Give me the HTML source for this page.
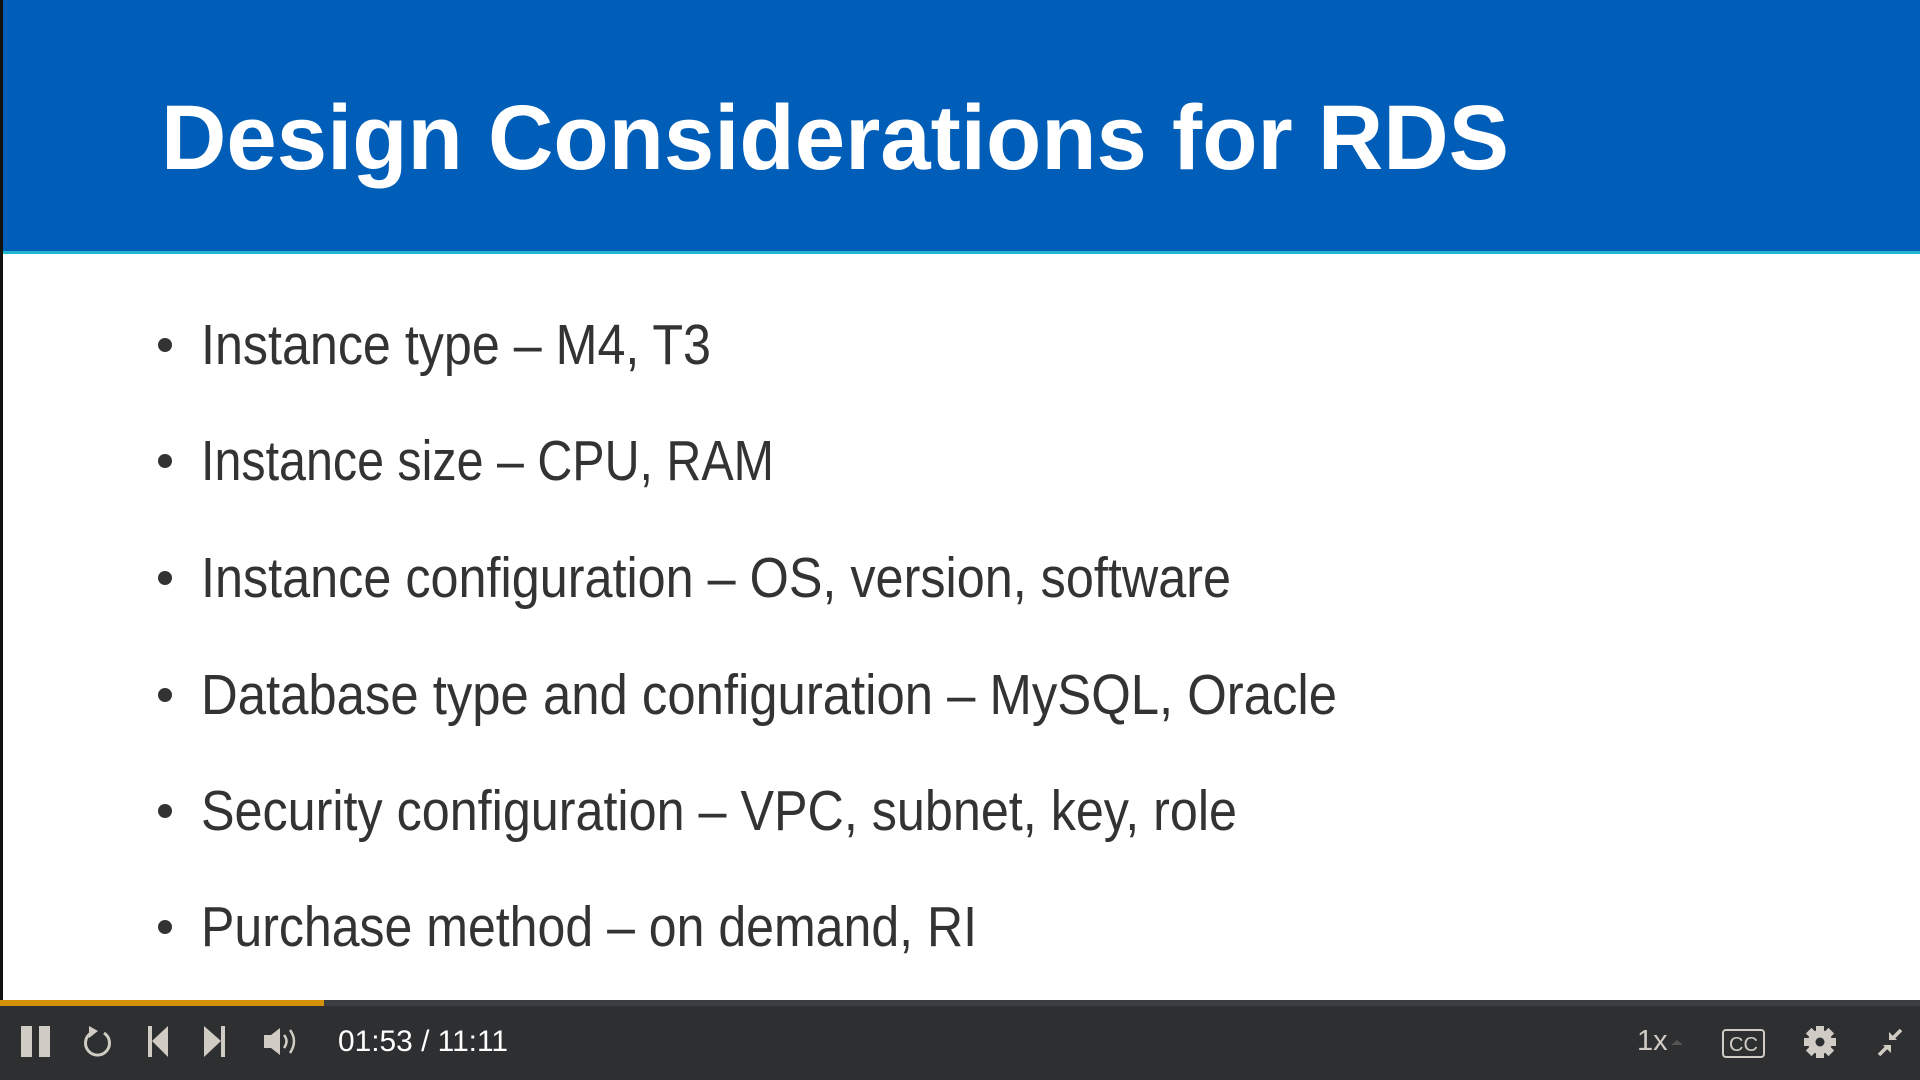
<!DOCTYPE html>
<html><head><meta charset="utf-8"><style>
html,body{margin:0;padding:0;width:1920px;height:1080px;overflow:hidden;background:#fff;}
svg{display:block}
</style></head><body>
<svg width="1920" height="1080" viewBox="0 0 1920 1080" xmlns="http://www.w3.org/2000/svg">
<rect x="0" y="0" width="1920" height="1000" fill="#fff"/>
<rect x="0" y="0" width="1920" height="252" fill="#005eb8"/>
<rect x="0" y="251" width="1920" height="3" fill="#1fb6d0"/>
<rect x="0" y="0" width="3" height="1000" fill="#111"/>
<text x="161" y="169" font-family="Liberation Sans, sans-serif" font-weight="bold" font-size="92" fill="#fff" textLength="1348" lengthAdjust="spacingAndGlyphs">Design Considerations for RDS</text>
<g font-family="Liberation Sans, sans-serif" font-size="57" fill="#333">
<circle cx="165" cy="345" r="7" fill="#333"/>
<text x="201" y="364" textLength="510" lengthAdjust="spacingAndGlyphs">Instance type – M4, T3</text>
<circle cx="165" cy="461" r="7" fill="#333"/>
<text x="201" y="480" textLength="573" lengthAdjust="spacingAndGlyphs">Instance size – CPU, RAM</text>
<circle cx="165" cy="578" r="7" fill="#333"/>
<text x="201" y="597" textLength="1030" lengthAdjust="spacingAndGlyphs">Instance configuration – OS, version, software</text>
<circle cx="165" cy="695" r="7" fill="#333"/>
<text x="201" y="714" textLength="1136" lengthAdjust="spacingAndGlyphs">Database type and configuration – MySQL, Oracle</text>
<circle cx="165" cy="811" r="7" fill="#333"/>
<text x="201" y="830" textLength="1036" lengthAdjust="spacingAndGlyphs">Security configuration – VPC, subnet, key, role</text>
<circle cx="165" cy="927" r="7" fill="#333"/>
<text x="201" y="946" textLength="776" lengthAdjust="spacingAndGlyphs">Purchase method – on demand, RI</text>
</g>
<rect x="0" y="1000" width="1920" height="80" fill="#2e2f31"/>
<rect x="0" y="1000" width="1920" height="6" fill="#3a3d41"/>
<rect x="0" y="1000" width="324" height="6" fill="#d4900a"/>
<g fill="#d0ccc4">
<rect x="21" y="1026" width="11" height="31"/><rect x="39" y="1026" width="11" height="31"/>
<path d="M91 1033 A12 12 0 1 0 104 1033" fill="none" stroke="#d0ccc4" stroke-width="3"/>
<polygon points="89,1026 98,1031 89,1038"/>
<rect x="148" y="1026" width="4" height="31"/><polygon points="152,1041 168,1026 168,1057"/>
<rect x="221" y="1026" width="4" height="31"/><polygon points="221,1041 204,1026 204,1057"/>
<polygon points="264,1035 271,1035 280,1028 280,1055 271,1048 264,1048"/>
<path d="M284 1035 Q289 1041 284 1048" fill="none" stroke="#d0ccc4" stroke-width="2.5"/>
<path d="M290 1030 Q298 1041 290 1053" fill="none" stroke="#d0ccc4" stroke-width="2.5"/>
</g>
<text x="338" y="1051" font-family="Liberation Sans, sans-serif" font-size="30" fill="#fff" textLength="170" lengthAdjust="spacingAndGlyphs">01:53 / 11:11</text>
<text x="1637" y="1050" font-family="Liberation Sans, sans-serif" font-size="29" fill="#d0ccc4">1x</text>
<polygon points="1671,1045 1677,1040 1683,1045" fill="#555"/>
<rect x="1723" y="1030" width="41" height="27" rx="3" fill="none" stroke="#d0ccc4" stroke-width="2"/>
<text x="1743.5" y="1051" text-anchor="middle" font-family="Liberation Sans, sans-serif" font-size="20" fill="#d0ccc4">CC</text>
<g transform="translate(1820,1042)" fill="#d0ccc4">
<circle r="12"/>
<g><rect x="-4" y="-16" width="8" height="32"/><rect x="-16" y="-4" width="32" height="8"/>
<rect x="-4" y="-16" width="8" height="32" transform="rotate(45)"/><rect x="-4" y="-16" width="8" height="32" transform="rotate(-45)"/></g>
<circle r="4.5" fill="#2e2f31"/>
</g>
<g stroke="#d0ccc4" stroke-width="3.5" fill="#d0ccc4">
<line x1="1879" y1="1055" x2="1887" y2="1047"/><polygon points="1883,1045 1891,1045 1891,1053" stroke="none"/>
<line x1="1901" y1="1030" x2="1893" y2="1038"/><polygon points="1889,1032 1889,1040 1897,1040" stroke="none"/>
</g>
</svg>
</body></html>
